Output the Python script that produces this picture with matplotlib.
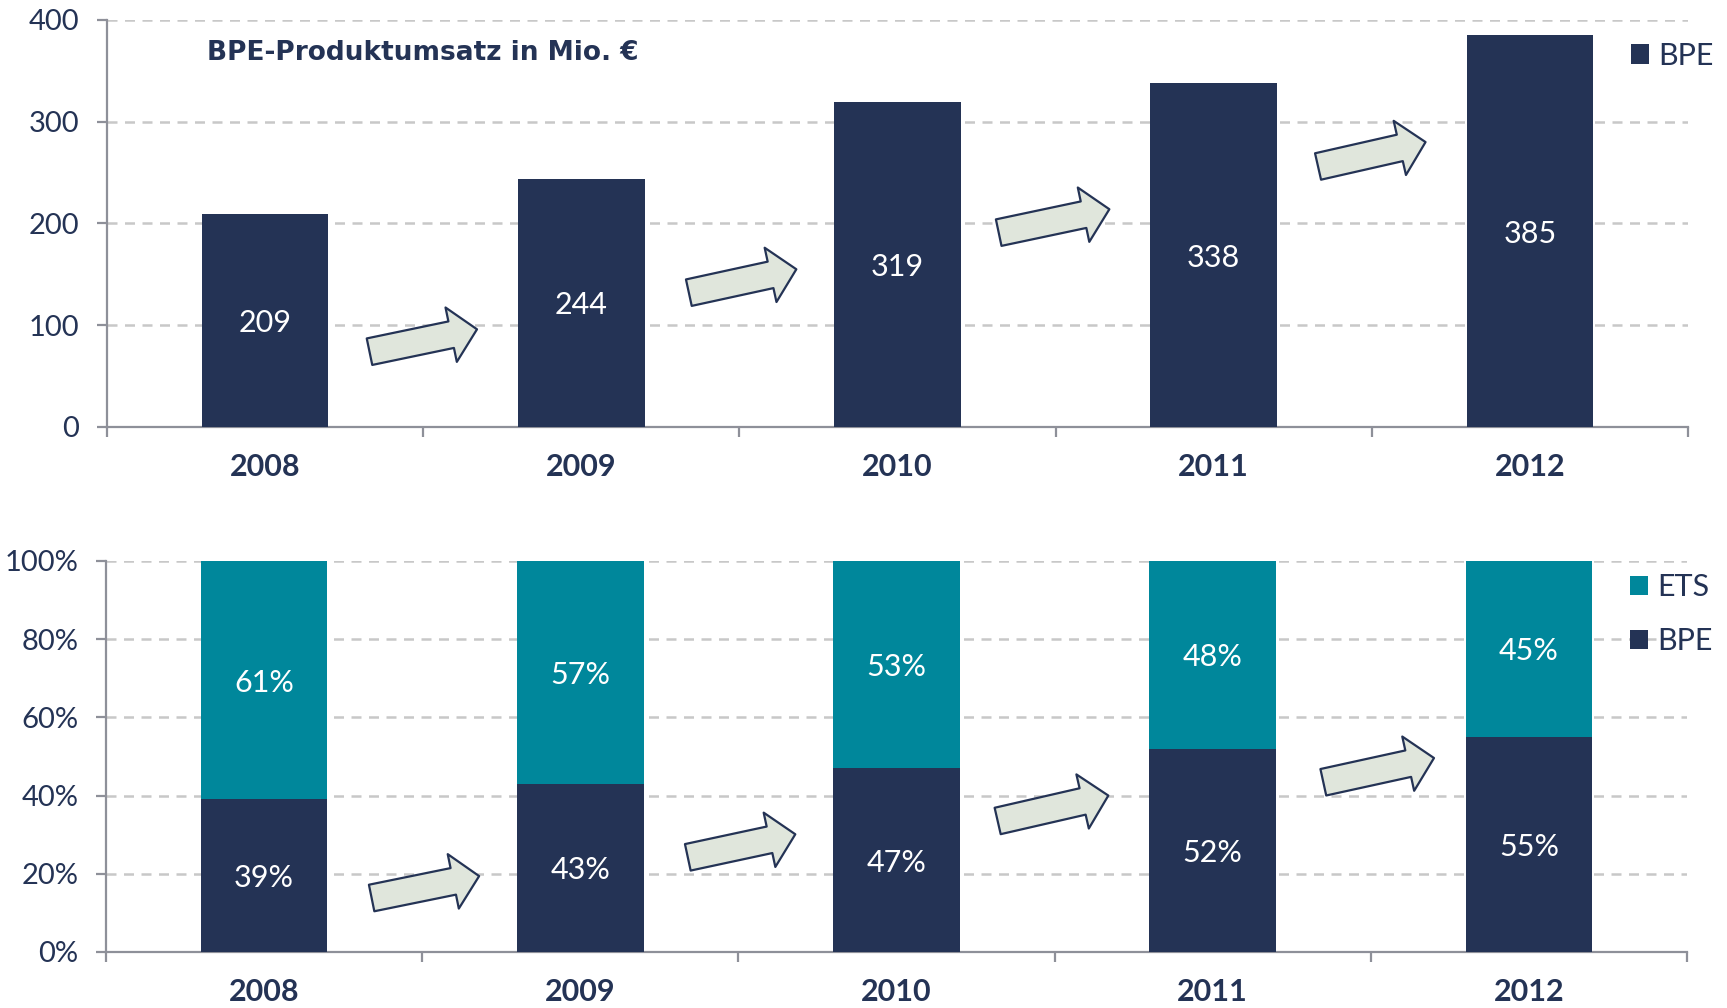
import matplotlib
matplotlib.use("Agg")
import matplotlib.pyplot as plt
import matplotlib.patches as mpatches
from matplotlib.ticker import FixedLocator, PercentFormatter

# --- data ---
years = ["2008", "2009", "2010", "2011", "2012"]
bpe_revenue = [209, 244, 319, 338, 385]          # Mio. EUR
bpe_share = [39, 43, 47, 52, 55]                 # %
ets_share = [61, 57, 53, 48, 45]                 # %

# decorative growth arrows: (x tail, y tail, x tip, y tip) in data units
arrows_top = [(0.33, 74, 0.67, 96), (1.34, 132, 1.68, 155),
              (2.32, 191, 2.67, 214), (3.33, 256, 3.67, 280)]
arrows_bottom = [(0.34, 13.8, 0.68, 19.4), (1.34, 24.2, 1.68, 30.1),
                 (2.32, 33.5, 2.67, 40.0), (3.35, 43.4, 3.70, 49.6)]

NAVY = "#243355"
TEAL = "#00879B"
ARROW_FC = "#E0E6DC"
SPINE = "#8E9099"
GRID = "#C8C8C8"

plt.rcParams["font.family"] = ["Lato", "DejaVu Sans"]

fig = plt.figure(figsize=(17.27, 10.08), dpi=100)
ax1 = fig.add_axes([0.062, 0.5764, 0.9154, 0.4038])
ax2 = fig.add_axes([0.0614, 0.0556, 0.9154, 0.3879])

x = list(range(len(years)))


def style_axis(ax):
    ax.set_xlim(-0.5, len(years) - 0.5)
    for s in ("top", "right"):
        ax.spines[s].set_visible(False)
    for s in ("left", "bottom"):
        ax.spines[s].set_color(SPINE)
        ax.spines[s].set_linewidth(1.6)
    ax.set_axisbelow(True)
    ax.yaxis.grid(True, color=GRID, linestyle=(0, (4, 3)), linewidth=1.8)
    ax.tick_params(axis="y", direction="out", length=7, width=1.6,
                   color=SPINE, labelcolor=NAVY, labelsize=21, pad=13)
    # boundaries get the tick marks, centres get the year labels
    ax.xaxis.set_major_locator(FixedLocator([i - 0.5 for i in range(len(years) + 1)]))
    ax.xaxis.set_major_formatter(plt.NullFormatter())
    ax.xaxis.set_minor_locator(FixedLocator(x))
    ax.set_xticklabels(years, minor=True)
    ax.tick_params(axis="x", which="major", direction="out", length=7,
                   width=1.6, color=SPINE)
    ax.tick_params(axis="x", which="minor", length=0, pad=19,
                   labelcolor=NAVY, labelsize=22)
    for lbl in ax.get_xticklabels(minor=True):
        lbl.set_fontweight("bold")


def add_arrows(ax, spots):
    for x0, y0, x1, y1 in spots:
        arr = mpatches.FancyArrowPatch(
            (x0, y0), (x1, y1),
            arrowstyle="simple,head_length=19,head_width=40,tail_width=19.5",
            mutation_scale=1, shrinkA=0, shrinkB=0,
            fc=ARROW_FC, ec=NAVY, lw=1.6, zorder=4)
        ax.add_patch(arr)


# --- top: revenue ---
style_axis(ax1)
b1 = ax1.bar(x, bpe_revenue, width=0.4, color=NAVY, label="BPE", zorder=3)
ax1.set_ylim(0, 400)
ax1.set_yticks([0, 100, 200, 300, 400])
for xi, v in zip(x, bpe_revenue):
    ax1.text(xi, v / 2, str(v), ha="center", va="center_baseline",
             color="white", fontsize=22, zorder=5)
add_arrows(ax1, arrows_top)
ax1.text(0.063, 0.92, "BPE-Produktumsatz in Mio. €", transform=ax1.transAxes,
         ha="left", va="center", fontsize=19, fontweight="bold", color=NAVY,
         family="DejaVu Sans")
ax1.legend(handles=[b1], loc="upper left", bbox_to_anchor=(0.956, 0.976),
           frameon=False, fontsize=22, handlelength=0.6, handleheight=0.6,
           handletextpad=0.3, borderaxespad=0, labelcolor=NAVY)

# --- bottom: share ---
style_axis(ax2)
b_bpe = ax2.bar(x, bpe_share, width=0.4, color=NAVY, label="BPE", zorder=3)
b_ets = ax2.bar(x, ets_share, width=0.4, bottom=bpe_share, color=TEAL,
                label="ETS", zorder=3)
ax2.set_ylim(0, 100)
ax2.set_yticks(range(0, 101, 20))
ax2.yaxis.set_major_formatter(PercentFormatter(decimals=0))
for xi, b, e in zip(x, bpe_share, ets_share):
    ax2.text(xi, b / 2, f"{b}%", ha="center", va="center_baseline",
             color="white", fontsize=22, zorder=5)
    ax2.text(xi, b + e / 2, f"{e}%", ha="center", va="center_baseline",
             color="white", fontsize=22, zorder=5)
add_arrows(ax2, arrows_bottom)
ax2.legend(handles=[b_ets, b_bpe], loc="upper left", bbox_to_anchor=(0.956, 1.0),
           frameon=False, fontsize=22, handlelength=0.6, handleheight=0.6,
           handletextpad=0.3, labelspacing=0.85, borderaxespad=0,
           labelcolor=NAVY)

fig.savefig("out.png", dpi=100)
